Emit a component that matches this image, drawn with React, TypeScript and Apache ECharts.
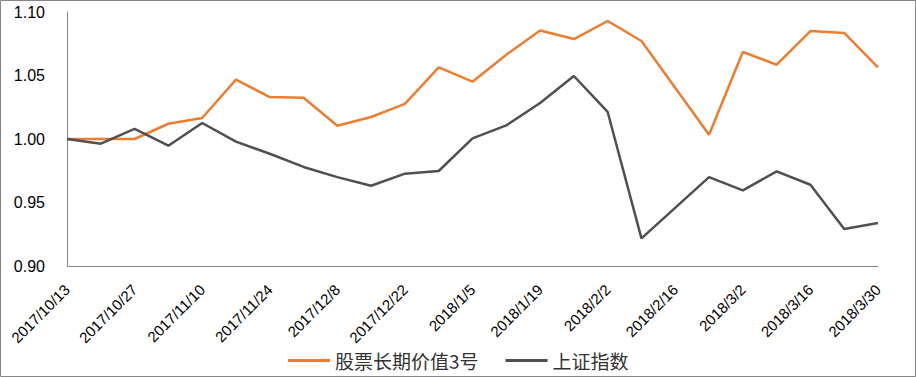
import React, { useEffect, useRef } from "react";
import * as echarts from "echarts";

const categories = [
  "2017/10/13", "2017/10/20", "2017/10/27", "2017/11/3", "2017/11/10", "2017/11/17",
  "2017/11/24", "2017/12/1", "2017/12/8", "2017/12/15", "2017/12/22", "2017/12/29",
  "2018/1/5", "2018/1/12", "2018/1/19", "2018/1/26", "2018/2/2", "2018/2/9",
  "2018/2/16", "2018/2/23", "2018/3/2", "2018/3/9", "2018/3/16", "2018/3/23", "2018/3/30",
];

const fundName = "股票长期价值3号";
const fundValues: (number | null)[] = [
  1.0, 1.0, 1.0, 1.012, 1.0165, 1.0467, 1.033, 1.0325, 1.0105, 1.0173, 1.0276, 1.0564,
  1.0451, 1.0664, 1.0855, 1.0787, 1.0929, 1.0772, null, 1.0034, 1.0685, 1.0585, 1.085,
  1.0835, 1.0564,
];

const indexName = "上证指数";
const indexValues: (number | null)[] = [
  1.0, 0.9963, 1.0079, 0.9947, 1.0126, 0.9979, 0.9884, 0.978, 0.97, 0.9632, 0.9727, 0.9748,
  1.0005, 1.0107, 1.0283, 1.0496, 1.0213, 0.9217, null, 0.97, 0.9595, 0.9745, 0.964,
  0.9291, 0.9339,
];

const yTicks = { min: 0.9, max: 1.1, interval: 0.05 };

export default function App() {
  const ref = useRef<HTMLDivElement>(null);
  useEffect(() => {
    document.body.style.margin = "0";
    const chart = echarts.init(ref.current!, undefined, { renderer: "svg" });
    const axisFont = "'Liberation Sans', 'Noto Sans CJK SC', sans-serif";
    chart.setOption({
      animation: false,
      backgroundColor: "#ffffff",
      graphic: [
        {
          type: "rect",
          shape: { x: 0.5, y: 0.5, width: 915, height: 376 },
          style: { fill: "none", stroke: "#868686", lineWidth: 1 },
          silent: true,
        },
      ],
      grid: { left: 67, right: 38, top: 12, bottom: 111, containLabel: false },
      legend: {
        top: 346,
        left: 283,
        icon: "rect",
        itemWidth: 42,
        itemHeight: 3,
        itemGap: 27,
        textStyle: { fontSize: 19, color: "#333333", fontFamily: "'Noto Sans CJK SC', sans-serif" },
        data: [fundName, indexName],
      },
      xAxis: {
        type: "category",
        data: categories,
        boundaryGap: false,
        axisLine: { show: true, lineStyle: { color: "#868686", width: 1 } },
        axisTick: { show: false },
        axisLabel: {
          interval: 1,
          rotate: 45,
          margin: 21,
          fontSize: 15,
          color: "#000000",
          fontFamily: axisFont,
        },
        splitLine: { show: false },
      },
      yAxis: {
        type: "value",
        min: yTicks.min,
        max: yTicks.max,
        interval: yTicks.interval,
        axisLine: { show: true, lineStyle: { color: "#868686", width: 1 } },
        axisTick: { show: false },
        splitLine: { show: false },
        axisLabel: {
          margin: 22,
          fontSize: 16,
          color: "#000000",
          fontFamily: axisFont,
          formatter: (v: number) => v.toFixed(2),
        },
      },
      series: [
        {
          name: fundName,
          type: "line",
          data: fundValues,
          connectNulls: true,
          symbol: "none",
          lineStyle: { color: "#ED7D31", width: 2.5 },
          itemStyle: { color: "#ED7D31" },
        },
        {
          name: indexName,
          type: "line",
          data: indexValues,
          connectNulls: true,
          symbol: "none",
          lineStyle: { color: "#505050", width: 2.5 },
          itemStyle: { color: "#505050" },
        },
      ],
    });
    return () => chart.dispose();
  }, []);
  return <div ref={ref} style={{ width: 916, height: 377 }} />;
}
